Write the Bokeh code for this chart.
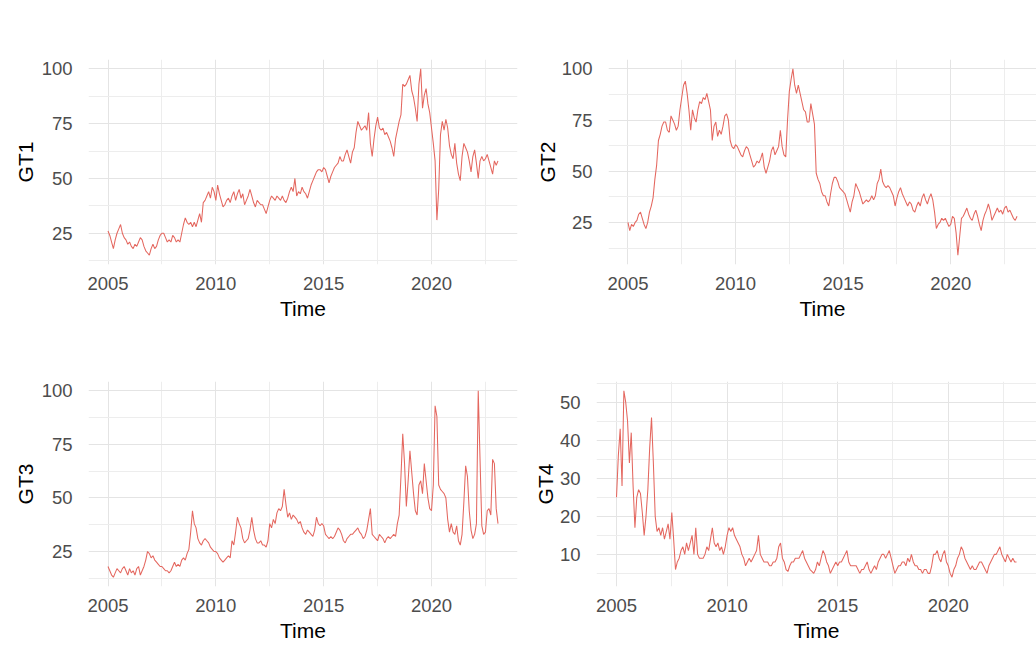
import numpy as np
from bokeh.plotting import figure
from bokeh.layouts import column, row
from bokeh.models import FixedTicker, Range1d
from bokeh.embed import file_html
from bokeh.resources import INLINE

# Monthly series, starting January 2005
START_YEAR = 2005

gt1 = [
    26, 24, 21, 18, 22, 25, 27, 29, 25, 23, 22, 20,   # 2005
    21, 19, 18, 20, 19, 21, 23, 22, 19, 17, 16, 15,   # 2006
    18, 20, 18, 19, 22, 24, 25, 25, 23, 21, 22, 21,   # 2007
    24, 23, 21, 22, 21, 25, 29, 32, 30, 29, 30, 28,   # 2008
    30, 28, 31, 34, 30, 39, 40, 42, 44, 41, 46, 44,   # 2009
    40, 47, 43, 40, 37, 38, 40, 41, 39, 42, 44, 40,   # 2010
    43, 45, 41, 43, 38, 40, 42, 45, 42, 39, 37, 40,   # 2011
    39, 38, 38, 36, 34, 37, 40, 42, 41, 40, 42, 41,   # 2012
    40, 42, 40, 39, 41, 44, 46, 44, 50, 42, 44, 43,   # 2013
    46, 44, 43, 41, 44, 47, 49, 51, 53, 54, 54, 53,   # 2014
    55, 54, 51, 48, 51, 53, 55, 56, 57, 60, 58, 58,   # 2015
    61, 63, 60, 57, 62, 64, 71, 76, 74, 72, 73, 74,   # 2016
    72, 80, 66, 60, 68, 74, 78, 73, 72, 73, 70, 71,   # 2017
    69, 67, 64, 60, 68, 72, 76, 79, 93, 92, 93, 95,   # 2018
    97, 90, 87, 82, 76, 93, 100, 82, 88, 91, 84, 80,  # 2019
    73, 66, 58, 31, 45, 70, 76, 72, 77, 73, 65, 61,   # 2020
    59, 66, 57, 52, 49, 60, 66, 64, 62, 58, 53, 60,   # 2021
    63, 57, 50, 58, 60, 58, 59, 61, 58, 55, 52, 58,   # 2022
    56, 58,                                           # 2023
]

gt2 = [
    25, 21, 24, 23, 25, 26, 29, 30, 27, 24, 22, 25,   # 2005
    30, 33, 37, 46, 53, 65, 68, 72, 74, 74, 70, 69,   # 2006
    77, 75, 73, 70, 72, 80, 86, 92, 94, 88, 80, 70,   # 2007
    80, 76, 74, 80, 84, 83, 86, 85, 88, 84, 80, 65,   # 2008
    72, 74, 67, 70, 68, 72, 77, 78, 75, 65, 62, 61,   # 2009
    63, 62, 60, 58, 57, 60, 62, 61, 58, 55, 52, 53,   # 2010
    55, 54, 56, 59, 52, 49, 52, 55, 60, 62, 58, 60,   # 2011
    62, 70, 62, 58, 57, 75, 89, 95, 100, 92, 88, 92,  # 2012
    88, 84, 80, 79, 74, 74, 83, 78, 73, 49, 46, 44,   # 2013
    40, 38, 38, 35, 33, 39, 44, 47, 47, 45, 42, 41,   # 2014
    40, 39, 36, 33, 30, 35, 38, 44, 42, 40, 37, 34,   # 2015
    35, 36, 35, 36, 38, 36, 38, 44, 46, 51, 45, 43,   # 2016
    42, 43, 42, 40, 38, 33, 37, 40, 42, 39, 37, 35,   # 2017
    33, 35, 34, 31, 30, 33, 35, 33, 37, 39, 36, 34,   # 2018
    37, 39, 36, 30, 22, 24, 25, 27, 26, 27, 25, 23,   # 2019
    24, 28, 27, 20, 9, 18, 27, 28, 30, 32, 29, 27,    # 2020
    26, 29, 31, 28, 24, 21, 26, 29, 31, 34, 31, 26,   # 2021
    28, 30, 32, 30, 31, 29, 32, 33, 30, 31, 29, 27,   # 2022
    26, 28,                                           # 2023
]

gt3 = [
    18, 16, 14, 13, 15, 17, 16, 15, 17, 18, 16, 14,   # 2005
    17, 15, 16, 14, 17, 18, 14, 16, 18, 21, 25, 24,   # 2006
    22, 23, 21, 20, 19, 18, 18, 17, 16, 16, 15, 16,   # 2007
    18, 20, 18, 19, 18, 21, 22, 21, 24, 26, 34, 44,   # 2008
    38, 36, 31, 29, 28, 30, 31, 30, 29, 27, 26, 25,   # 2009
    25, 24, 22, 21, 20, 21, 22, 23, 22, 30, 28, 34,   # 2010
    41, 38, 36, 31, 29, 30, 31, 35, 41, 35, 31, 29,   # 2011
    29, 30, 28, 28, 27, 30, 38, 36, 40, 38, 43, 45,   # 2012
    44, 46, 54, 47, 41, 43, 40, 42, 41, 40, 38, 39,   # 2013
    36, 34, 33, 35, 34, 33, 32, 35, 41, 38, 37, 38,   # 2014
    37, 33, 32, 31, 32, 31, 32, 34, 36, 35, 33, 30,   # 2015
    29, 31, 32, 33, 33, 34, 35, 36, 34, 33, 31, 32,   # 2016
    35, 40, 45, 33, 32, 31, 30, 33, 32, 31, 29, 31,   # 2017
    32, 31, 32, 33, 32, 38, 42, 60, 80, 66, 46, 58,   # 2018
    72, 62, 52, 44, 42, 56, 58, 52, 66, 58, 50, 45,   # 2019
    44, 56, 93, 88, 56, 54, 53, 52, 50, 40, 34, 38,   # 2020
    34, 33, 37, 30, 28, 33, 48, 65, 60, 44, 35, 31,   # 2021
    33, 38, 100, 68, 37, 33, 34, 44, 45, 42, 68, 66,  # 2022
    45, 38,                                           # 2023
]

gt4 = [
    25, 36, 43, 28, 53, 50, 45, 34, 42, 28, 17, 25,   # 2005
    27, 26, 21, 15, 20, 27, 38, 46, 34, 20, 16, 17,   # 2006
    15, 17, 14, 16, 18, 14, 21, 14, 6, 8, 9, 11,      # 2007
    12, 10, 13, 11, 13, 15, 10, 17, 10, 9, 9, 9,      # 2008
    10, 12, 11, 14, 17, 13, 12, 13, 11, 12, 10, 12,   # 2009
    15, 17, 16, 17, 15, 14, 13, 12, 10, 9, 7, 8,      # 2010
    9, 8, 9, 10, 11, 15, 10, 9, 8, 8, 8, 7,           # 2011
    7, 8, 8, 9, 12, 13, 9, 8, 6, 5.5, 7, 8,           # 2012
    8, 9, 9, 9, 10, 11, 9, 8, 7, 6, 5.5, 5,           # 2013
    6, 8, 7, 9, 11, 10, 8, 7, 5, 6, 7, 8,             # 2014
    7, 8, 8, 9, 10, 11, 8, 7, 7, 7, 7, 6,             # 2015
    5, 6, 6, 7, 8, 6, 5, 6, 7, 6, 8, 9,               # 2016
    10, 10, 9, 10, 11, 9, 7, 5, 6, 7, 7, 8,           # 2017
    8, 7, 9, 8, 10, 8, 7, 7, 6, 6, 5, 6,              # 2018
    6, 5, 5, 7, 10, 10, 11, 9, 8, 10, 11, 8,          # 2019
    7, 5, 4, 6, 7, 9, 10, 12, 11, 9, 8, 7,            # 2020
    6, 7, 6, 6, 7, 8, 8, 7, 6, 5, 7, 8,               # 2021
    9, 10, 10, 11, 12, 10, 9, 8, 10, 9, 8, 9,         # 2022
    8, 8,                                             # 2023
]

x_ticks = [2005, 2010, 2015, 2020]
x_minor = [2002.5, 2007.5, 2012.5, 2017.5, 2022.5]
y_ticks_pct = [25, 50, 75, 100]
y_minor_pct = [12.5, 37.5, 62.5, 87.5]
y_ticks_gt4 = [10, 20, 30, 40, 50]
y_minor_gt4 = [5, 15, 25, 35, 45, 55]

LINE = "#E4675F"
FONT = "Liberation Sans"


def panel(name, values, yticks, yminor, width, height, left, right, top, bottom,
          ylab_standoff):
    v = np.asarray(values, dtype=float)
    t = START_YEAR + np.arange(len(v)) / 12.0
    dx = (t.max() - t.min()) * 0.05
    dy = (v.max() - v.min()) * 0.05
    p = figure(width=width, height=height, output_backend="svg", toolbar_location=None,
               x_range=Range1d(t.min() - dx, t.max() + dx),
               y_range=Range1d(v.min() - dy, v.max() + dy),
               min_border_left=left, min_border_right=right,
               min_border_top=top, min_border_bottom=bottom)
    p.line(t, v, line_color=LINE, line_width=1.05)
    p.outline_line_color = None
    p.background_fill_color = "white"
    p.border_fill_color = "white"
    p.xaxis.ticker = FixedTicker(ticks=x_ticks, minor_ticks=x_minor)
    p.yaxis.ticker = FixedTicker(ticks=yticks, minor_ticks=yminor)
    p.xaxis.axis_label = "Time"
    p.yaxis.axis_label = name
    for ax in p.axis:
        ax.axis_line_color = None
        ax.major_tick_line_color = None
        ax.minor_tick_line_color = None
        ax.major_label_text_font = FONT
        ax.major_label_text_font_size = "18.5px"
        ax.major_label_text_color = "#4D4D4D"
        ax.axis_label_text_font = FONT
        ax.axis_label_text_font_size = "21px"
        ax.axis_label_text_font_style = "normal"
        ax.axis_label_text_color = "#000000"
    p.xaxis.major_label_standoff = 6
    p.xaxis.axis_label_standoff = 4
    p.yaxis.major_label_standoff = 10
    p.yaxis.axis_label_standoff = ylab_standoff
    for g in (p.xgrid, p.ygrid):
        g.grid_line_color = "#E4E4E4"
        g.grid_line_width = 1
        g.minor_grid_line_color = "#EDEDED"
        g.minor_grid_line_width = 1
    return p


p1 = panel("GT1", gt1, y_ticks_pct, y_minor_pct, 520, 322, 88, 3, 59, 56, 2)
p2 = panel("GT2", gt2, y_ticks_pct, y_minor_pct, 516, 322, 88, 0, 59, 56, 0)
p3 = panel("GT3", gt3, y_ticks_pct, y_minor_pct, 520, 322, 88, 3, 59, 56, 2)
p4 = panel("GT4", gt4, y_ticks_gt4, y_minor_gt4, 516, 322, 76, 0, 59, 56, 0)

layout = column(row(p1, p2), row(p3, p4))

open("out.html", "w").write(file_html(layout, INLINE))
